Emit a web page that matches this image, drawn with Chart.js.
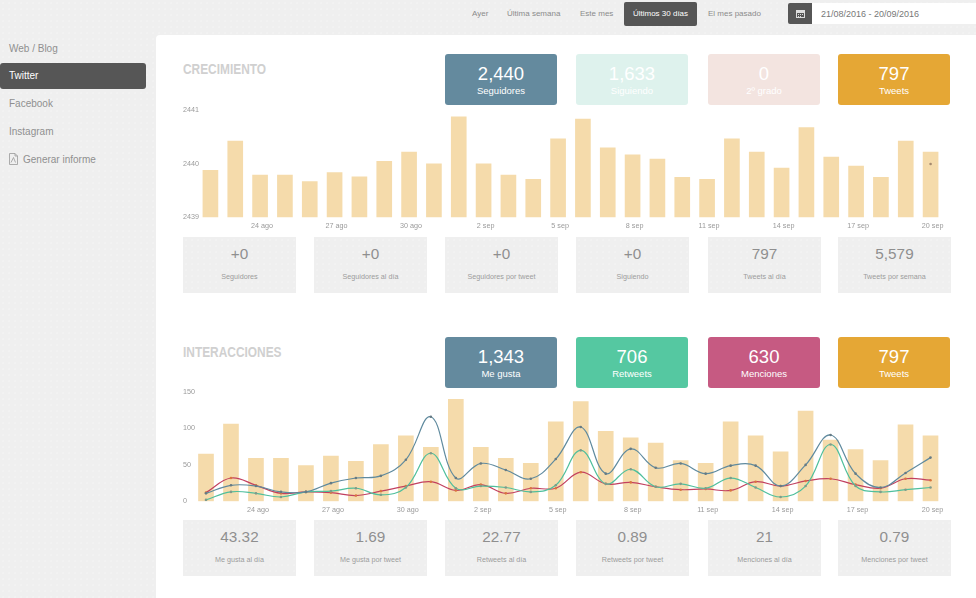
<!DOCTYPE html>
<html lang="es">
<head>
<meta charset="UTF-8">
<title>Twitter</title>
<script src="https://cdn.jsdelivr.net/npm/chart.js"></script>
<style>
    html, body { margin: 0; height: 100%; overflow: hidden; }
    body {
        width: 976px; height: 598px; position: relative;
        font-family: "Liberation Sans", Arial, sans-serif; color: #8a8a8a;
        background-color: #efefef;
        background-image: radial-gradient(#f5f5f5 0.6px, transparent 0.8px);
        background-size: 6px 6px;
    }
    .abs { position: absolute; }
    .rango { top: 9px; font-size: 8px; line-height: 10px; color: #8b8b8b; }
    #activo { left: 624px; top: 2px; width: 73px; height: 24px; line-height: 24px; text-align: center;
        background: #565656; color: #fff; border-radius: 2px; font-size: 8px; }
    #calIcono { left: 788px; top: 3px; width: 24px; height: 21px; background: #565656; border-radius: 2px 0 0 2px; }
    #calIcono svg { position: absolute; left: 8px; top: 6px; }
    #fechas { left: 812px; top: 3px; width: 164px; height: 21px; line-height: 22px; background: #fff; font-size: 9px;
        color: #777; text-indent: 9px; }
    .menu { left: 9px; font-size: 10px; line-height: 12px; color: #8f8f8f; }
    #menuActivo { left: 0; top: 63px; width: 146px; height: 26px; background: #565656; border-radius: 3px; }
    #pdf { left: 9px; top: 153px; }
    #panel { left: 156px; top: 35px; width: 820px; height: 563px; background: #fff; border-radius: 4px 0 0 0; }
    .titulo { left: 183px; font-weight: bold; font-size: 14px; line-height: 16px;
        color: #d0d0d0; transform: scaleX(0.85); transform-origin: left; }
    .kpi { width: 112px; height: 51px; border-radius: 3px; color: #fff; text-align: center; }
    .kpi b { display: block; font-weight: 400; font-size: 18.5px; line-height: 20px; margin-top: 10px; }
    .kpi span { display: block; font-size: 9.5px; line-height: 14px; }
    .stat { width: 113px; height: 56px; background-color: #efefef; text-align: center; color: #8a8a8a;
        background-image: radial-gradient(#f5f5f5 0.6px, transparent 0.8px); background-size: 6px 6px; }
    .stat b { display: block; font-weight: 400; font-size: 15.3px; line-height: 18px; margin-top: 8px; color: #8f8f8f; }
    .stat span { display: block; font-size: 7.2px; line-height: 10px; margin-top: 9px; color: #9c9c9c; }
    canvas { position: absolute; }
</style>
</head>
<body>
    <div class="abs rango" style="left:472px">Ayer</div>
    <div class="abs rango" style="left:507px">Última semana</div>
    <div class="abs rango" style="left:580px">Este mes</div>
    <div class="abs" id="activo">Últimos 30 días</div>
    <div class="abs rango" style="left:708px">El mes pasado</div>
    <div class="abs" id="calIcono"><svg width="9" height="9" viewBox="0 0 9 9"><path d="M0 1h9v8H0z M1 4v4h7V4z" fill="#ddd" fill-rule="evenodd"/><path d="M2 5h1v1H2zM4 5h1v1H4zM6 5h1v1H6zM2 7h1v1H2zM4 7h1v1H4z" fill="#ddd"/></svg></div>
    <div class="abs" id="fechas">21/08/2016 - 20/09/2016</div>

    <div class="abs" id="menuActivo"></div>
    <div class="abs menu" style="top:43px">Web / Blog</div>
    <div class="abs menu" style="top:70px;color:#fff">Twitter</div>
    <div class="abs menu" style="top:98px">Facebook</div>
    <div class="abs menu" style="top:126px">Instagram</div>
    <svg class="abs" id="pdf" width="9" height="12" viewBox="0 0 9 12"><path d="M.5.5h5.5l2.500 2.500v8.500h-8z M6 .5v2.500h2.500 M2 9.500l2.500-5 2 5" fill="none" stroke="#999" stroke-width="0.8"/></svg>
    <div class="abs menu" style="top:154px;left:23px">Generar informe</div>

    <div class="abs" id="panel"></div>
    <div class="abs titulo" style="top:61px">CRECIMIENTO</div>
    <div class="abs titulo" style="top:344px">INTERACCIONES</div>
    <div id="tarjetas"></div>

    <canvas id="crecimiento" style="left:183px;top:100px;width:780px;height:137px" width="780" height="137"></canvas>
    <canvas id="interacciones" style="left:183px;top:384px;width:780px;height:134px" width="780" height="134"></canvas>

    <script>
        const fechas = ['22 ago','23 ago','24 ago','25 ago','26 ago','27 ago','28 ago','29 ago','30 ago','31 ago',
            '1 sep','2 sep','3 sep','4 sep','5 sep','6 sep','7 sep','8 sep','9 sep','10 sep',
            '11 sep','12 sep','13 sep','14 sep','15 sep','16 sep','17 sep','18 sep','19 sep','20 sep'];
        const seguidoresBarras = [2439.88,2440.43,2439.79,2439.79,2439.67,2439.84,2439.76,2440.05,2440.22,2440,
            2440.88,2440,2439.79,2439.71,2440.47,2440.84,2440.3,2440.17,2440.09,2439.75,
            2439.71,2440.47,2440.22,2439.92,2440.68,2440.13,2439.96,2439.75,2440.43,2440.22];
        const seguidoresPunto = [null,null,null,null,null,null,null,null,null,null,
            null,null,null,null,null,null,null,null,null,null,
            null,null,null,null,null,null,null,null,null,2440];
        const tweets = [65,106,59,59,49,62,55,78,90,74,140,74,59,52,109,137,96,87,80,56,52,109,90,68,124,84,71,56,105,90];
        const meGusta = [11,22,21,13,13,25,32,35,57,116,32,52,43,31,58,102,38,72,46,52,38,49,49,21,50,91,38,19,39,60];
        const retweets = [2,13,11,6,13,14,18,9,19,66,18,21,19,13,22,70,24,44,20,24,18,32,19,6,21,78,21,13,16,19];
        const menciones = [12,32,22,11,13,12,8,14,21,27,15,23,11,18,18,40,24,26,20,16,17,15,27,21,28,31,23,18,31,29];

        const kpiCrecimiento = [['2,440','Seguidores','#648a9e'],['1,633','Siguiendo','#def2ed'],['0','2º grado','#f3e4e0'],['797','Tweets','#e5a735']];
        const kpiInteracciones = [['1,343','Me gusta','#648a9e'],['706','Retweets','#55c8a1'],['630','Menciones','#c65a82'],['797','Tweets','#e5a735']];
        const statsCrecimiento = [['+0','Seguidores'],['+0','Seguidores al día'],['+0','Seguidores por tweet'],['+0','Siguiendo'],['797','Tweets al día'],['5,579','Tweets por semana']];
        const statsInteracciones = [['43.32','Me gusta al día'],['1.69','Me gusta por tweet'],['22.77','Retweets al día'],['0.89','Retweets por tweet'],['21','Menciones al día'],['0.79','Menciones por tweet']];

        const kpiX = [445, 576, 708, 838];
        const statX = [183, 314, 445, 576, 708, 838];
        const tarjetas = document.getElementById('tarjetas');
        function addKpi(lista, top) {
            lista.forEach((k, i) => {
                const d = document.createElement('div');
                d.className = 'abs kpi';
                d.style.left = kpiX[i] + 'px';
                d.style.top = top + 'px';
                d.style.background = k[2];
                d.innerHTML = '<b>' + k[0] + '</b><span>' + k[1] + '</span>';
                tarjetas.appendChild(d);
            });
        }
        function addStats(lista, top) {
            lista.forEach((s, i) => {
                const d = document.createElement('div');
                d.className = 'abs stat';
                d.style.left = statX[i] + 'px';
                d.style.top = top + 'px';
                d.innerHTML = '<b>' + s[0] + '</b><span>' + s[1] + '</span>';
                tarjetas.appendChild(d);
            });
        }
        addKpi(kpiCrecimiento, 54);
        addKpi(kpiInteracciones, 337);
        addStats(statsCrecimiento, 237);
        addStats(statsInteracciones, 520);

        const fuenteEje = { family: 'Liberation Sans', size: 7.2 };

        // mirror + negative padding keeps the y labels from being clipped to the narrow axis box
        function opciones(min, max, step, anchoY, arriba, abajo) {
            return {
                responsive: false, animation: false,
                layout: { padding: { top: arriba, bottom: abajo, left: 0, right: 20 } },
                plugins: { legend: { display: false }, tooltip: { enabled: false } },
                scales: {
                    x: {
                        grid: { display: false, drawTicks: false }, border: { display: false },
                        ticks: {
                            autoSkip: false, maxRotation: 0, padding: 4, labelOffset: 2,
                            color: '#9a9a9a', font: fuenteEje,
                            callback(v, i) { return i % 3 === 2 ? fechas[i] : ''; }
                        }
                    },
                    y: {
                        min: min, max: max,
                        grid: { display: false, drawTicks: false }, border: { display: false },
                        afterFit(scale) { scale.width = anchoY; },
                        ticks: {
                            stepSize: step, mirror: true, padding: -anchoY,
                            color: '#9a9a9a', font: fuenteEje,
                            callback(v) { return String(v); }
                        }
                    }
                }
            };
        }
        function serieLinea(nombre, datos, color, colorPunto) {
            return {
                type: 'line', label: nombre, data: datos, borderColor: color, backgroundColor: colorPunto,
                borderWidth: 1.2, tension: 0.4, pointRadius: 1.3, pointBorderWidth: 0, order: 1
            };
        }

        new Chart(document.getElementById('crecimiento'), {
            type: 'bar',
            data: {
                labels: fechas,
                datasets: [
                    { type: 'line', label: 'Seguidores', data: seguidoresPunto, showLine: false, pointRadius: 1.3,
                        pointBorderWidth: 0, backgroundColor: '#a58a70', order: 1 },
                    { label: 'Tweets', data: seguidoresBarras, backgroundColor: '#f5dbab', barThickness: 15, order: 2 }
                ]
            },
            options: opciones(2439, 2441, 1, 15, 10.5, 3)
        });

        new Chart(document.getElementById('interacciones'), {
            type: 'bar',
            data: {
                labels: fechas,
                datasets: [
                    serieLinea('Me gusta', meGusta, '#5f8a9e', '#667a84'),
                    serieLinea('Retweets', retweets, '#4fbf9c', '#7f9a8a'),
                    serieLinea('Menciones', menciones, '#c2405f', '#d9743f'),
                    { label: 'Tweets', data: tweets, backgroundColor: '#f5dbab', barThickness: 15, order: 2 }
                ]
            },
            options: opciones(0, 150, 50, 10.5, 8, 0)
        });
    </script>
</body>
</html>
